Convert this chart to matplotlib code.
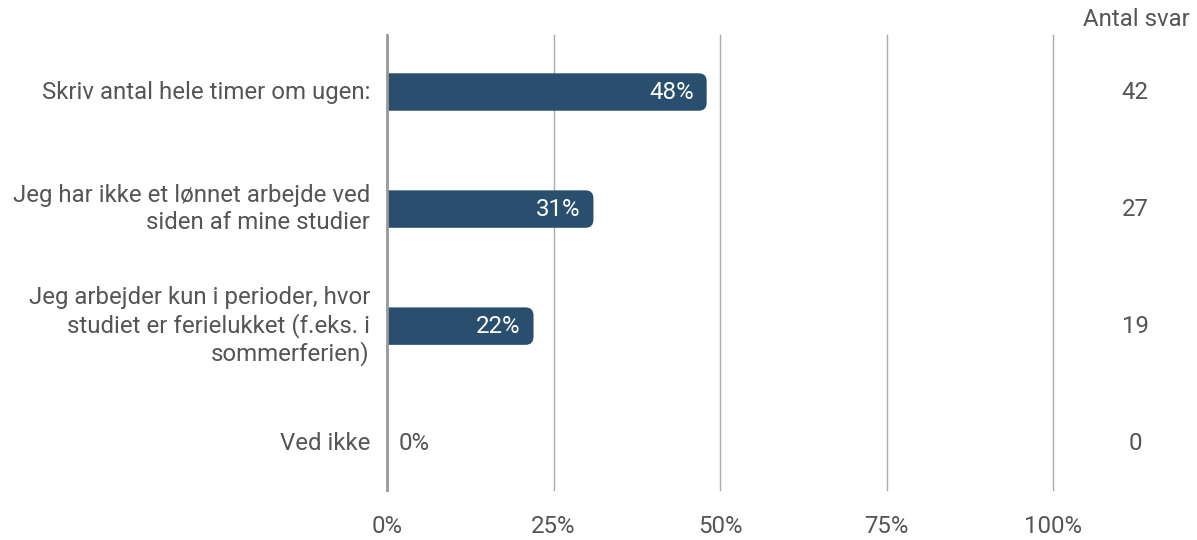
import matplotlib.pyplot as plt
import matplotlib.transforms as mtransforms
from matplotlib.patches import FancyBboxPatch

# Data
categories = [
    "Skriv antal hele timer om ugen:",
    "Jeg har ikke et lønnet arbejde ved\nsiden af mine studier",
    "Jeg arbejder kun i perioder, hvor\nstudiet er ferielukket (f.eks. i\nsommerferien)",
    "Ved ikke",
]
percents = [48, 31, 22, 0]
counts = [42, 27, 19, 0]
tick_values = [0, 25, 50, 75, 100]
tick_labels = ["0%", "25%", "50%", "75%", "100%"]

bar_color = "#2a4f6e"
text_color = "#555555"
fs = 17.3

plt.rcParams["font.family"] = ["Roboto", "DejaVu Sans"]

fig = plt.figure(figsize=(11.97, 5.4), dpi=100)
ax = fig.add_axes([387 / 1197, 50 / 540, 666 / 1197, 455 / 540])

ypos = list(range(len(categories)))
bars = ax.barh(ypos, percents, height=0.32, color=bar_color)

ax.set_xlim(0, 100)
ax.set_ylim(3.40, -0.487)

# rounded right ends
px_x = 100 / 666
px_y = 3.887 / 455
radius = 8 * px_x
for b in bars:
    w = b.get_width()
    if w <= 0:
        continue
    b.set_visible(False)
    patch = FancyBboxPatch(
        (b.get_x() - 3, b.get_y()), w + 3, b.get_height(),
        boxstyle=f"round,pad=0,rounding_size={radius}",
        mutation_aspect=px_y / px_x,
        facecolor=bar_color, edgecolor="none", clip_on=True,
    )
    ax.add_patch(patch)

# value labels
for y, p in zip(ypos, percents):
    if p > 0:
        ax.text(p - 13 * px_x, y, f"{p}%", ha="right", va="center",
                color="white", fontsize=fs)
    else:
        ax.text(p + 12 * px_x, y, f"{p}%", ha="left", va="center",
                color=text_color, fontsize=fs)

# category labels
for y, c in zip(ypos, categories):
    ax.text(-17 * px_x, y, c, ha="right", va="center", color=text_color,
            fontsize=fs, linespacing=1.2)

# counts on the right
trans = mtransforms.blended_transform_factory(fig.transFigure, ax.transData)
for y, n in zip(ypos, counts):
    ax.text(1135 / 1197, y, str(n), transform=trans, ha="center", va="center",
            color=text_color, fontsize=fs)
fig.text(1136 / 1197, 1 - 20 / 540, "Antal svar", ha="center", va="center",
         color=text_color, fontsize=fs)

ax.set_xticks(tick_values)
ax.set_xticklabels(tick_labels, color=text_color, fontsize=fs)
ax.set_yticks([])
ax.tick_params(axis="x", length=0, pad=18)
ax.grid(axis="x", color="#aaaaaa", linewidth=1)
for gl in ax.get_xgridlines():
    gl.set_clip_on(False)
ax.set_axisbelow(True)
for s in ["top", "right", "bottom"]:
    ax.spines[s].set_visible(False)
ax.spines["left"].set_color("#999999")
ax.spines["left"].set_linewidth(2)
ax.spines["left"].set_zorder(5)

fig.savefig("out.png", dpi=100)
